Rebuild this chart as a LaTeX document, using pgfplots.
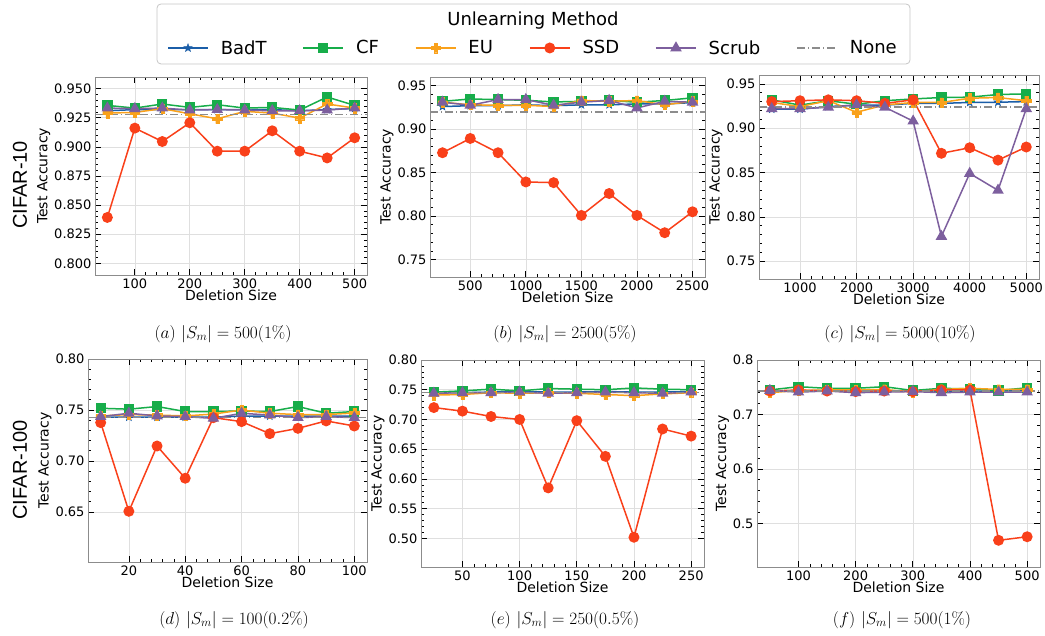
\documentclass[border=0pt]{standalone}
\usepackage[no-math]{fontspec}
\setmainfont{DejaVu Sans}
\newfontfamily\arialfont{Liberation Sans}
\usepackage{pgfplots}
\pgfplotsset{compat=1.18}
\definecolor{cBadT}{HTML}{1B5EA8}
\definecolor{cCF}{HTML}{17AD4A}
\definecolor{cEU}{HTML}{F9A11B}
\definecolor{cSSD}{HTML}{F9401A}
\definecolor{cScrub}{HTML}{7D5F9E}
\definecolor{cNone}{HTML}{8C8C8C}
\pgfdeclareplotmark{fstar}{%
  \pgfpathmoveto{\pgfpointpolar{90}{\pgfplotmarksize}}%
  \pgfpathlineto{\pgfpointpolar{126}{0.42\pgfplotmarksize}}%
  \pgfpathlineto{\pgfpointpolar{162}{\pgfplotmarksize}}%
  \pgfpathlineto{\pgfpointpolar{198}{0.42\pgfplotmarksize}}%
  \pgfpathlineto{\pgfpointpolar{234}{\pgfplotmarksize}}%
  \pgfpathlineto{\pgfpointpolar{270}{0.42\pgfplotmarksize}}%
  \pgfpathlineto{\pgfpointpolar{306}{\pgfplotmarksize}}%
  \pgfpathlineto{\pgfpointpolar{342}{0.42\pgfplotmarksize}}%
  \pgfpathlineto{\pgfpointpolar{18}{\pgfplotmarksize}}%
  \pgfpathlineto{\pgfpointpolar{54}{0.42\pgfplotmarksize}}%
  \pgfpathclose\pgfusepathqfillstroke}
\pgfdeclareplotmark{fplus}{%
  \pgfpathmoveto{\pgfpoint{-0.33\pgfplotmarksize}{\pgfplotmarksize}}%
  \pgfpathlineto{\pgfpoint{0.33\pgfplotmarksize}{\pgfplotmarksize}}%
  \pgfpathlineto{\pgfpoint{0.33\pgfplotmarksize}{0.33\pgfplotmarksize}}%
  \pgfpathlineto{\pgfpoint{\pgfplotmarksize}{0.33\pgfplotmarksize}}%
  \pgfpathlineto{\pgfpoint{\pgfplotmarksize}{-0.33\pgfplotmarksize}}%
  \pgfpathlineto{\pgfpoint{0.33\pgfplotmarksize}{-0.33\pgfplotmarksize}}%
  \pgfpathlineto{\pgfpoint{0.33\pgfplotmarksize}{-\pgfplotmarksize}}%
  \pgfpathlineto{\pgfpoint{-0.33\pgfplotmarksize}{-\pgfplotmarksize}}%
  \pgfpathlineto{\pgfpoint{-0.33\pgfplotmarksize}{-0.33\pgfplotmarksize}}%
  \pgfpathlineto{\pgfpoint{-\pgfplotmarksize}{-0.33\pgfplotmarksize}}%
  \pgfpathlineto{\pgfpoint{-\pgfplotmarksize}{0.33\pgfplotmarksize}}%
  \pgfpathlineto{\pgfpoint{-0.33\pgfplotmarksize}{0.33\pgfplotmarksize}}%
  \pgfpathclose\pgfusepathqfillstroke}
\pgfplotsset{
  panel/.style={
    scale only axis, anchor=south west,
    axis line style={black!45},
    tick align=inside, xtick pos=both, ytick pos=both,
    major tick length=6pt, minor tick length=3pt,
    every tick/.style={black, line width=0.7pt},
    minor tick num=4,
    grid=major, major grid style={gray!25, line width=0.6pt},
    tick label style={font=\fontsize{13}{15}\selectfont},
    label style={font=\fontsize{14}{16}\selectfont},
    xlabel={Deletion Size}, ylabel={Test Accuracy},
    xlabel style={yshift=5pt},
    ylabel style={yshift=-3pt},
    scaled ticks=false,
    /pgf/number format/assume math mode=true,
    xticklabel style={/pgf/number format/.cd, 1000 sep={}},
    every axis plot/.append style={line width=1.5pt},
  },
  yp3/.style={yticklabel style={/pgf/number format/.cd, fixed, fixed zerofill, precision=3}},
  yp2/.style={yticklabel style={/pgf/number format/.cd, fixed, fixed zerofill, precision=2}},
  yp1/.style={yticklabel style={/pgf/number format/.cd, fixed, fixed zerofill, precision=1}},
  badt/.style={color=cBadT, mark=fstar, mark size=4.2pt, mark options={solid, line width=0.5pt}},
  cf/.style={color=cCF, mark=square*, mark size=4.4pt, mark options={solid}},
  eu/.style={color=cEU, mark=fplus, mark size=4.7pt, mark options={solid, line width=0.3pt}},
  ssd/.style={color=cSSD, mark=*, mark size=4.7pt, mark options={solid}},
  scrub/.style={color=cScrub, mark=triangle*, mark size=5.2pt, mark options={solid}},
  nonel/.style={color=cNone, line width=1.5pt, dash pattern=on 8pt off 3pt on 1pt off 3pt, mark=none},
}
\begin{document}
\begin{tikzpicture}
% legend frame and title
\draw[gray!45, rounded corners=4pt, line width=0.8pt, fill=white] (157pt,572pt) rectangle (910pt,632pt);
\node[font=\fontsize{18}{20}\selectfont] at (533pt,615pt) {Unlearning Method};
\node[font=\arialfont\fontsize{20}{22}\selectfont, rotate=90] at (20pt,451pt) {CIFAR-10};
\node[font=\arialfont\fontsize{20}{22}\selectfont, rotate=90] at (20pt,166pt) {CIFAR-100};
% (a)
\begin{axis}[panel, yp3, at={(95pt,361pt)}, width=272pt, height=198pt,
  xmin=27.5, xmax=522.5, ymin=0.79, ymax=0.96,
  xtick={100,200,...,500}, ytick={0.800,0.825,0.850,0.875,0.900,0.925,0.950},
  legend columns=6,
  legend style={at={(1.6103,1.1465)}, anchor=center, draw=none, fill=none,
    font=\fontsize{18}{20}\selectfont,
    /tikz/every odd column/.append style={column sep=10pt},
    /tikz/every even column/.append style={column sep=34pt}},
  legend image code/.code={\draw[mark repeat=2,mark phase=2] plot coordinates {(0pt,0pt) (20pt,0pt) (40pt,0pt)};},
]
\addplot[badt] coordinates {(50,0.931)(100,0.932)(150,0.932)(200,0.932)(250,0.932)(300,0.932)(350,0.932)(400,0.931)(450,0.932)(500,0.933)};
\addplot[cf] coordinates {(50,0.9356)(100,0.9333)(150,0.9368)(200,0.9339)(250,0.9362)(300,0.9333)(350,0.9339)(400,0.9316)(450,0.9428)(500,0.9356)};
\addplot[eu] coordinates {(50,0.929)(100,0.9296)(150,0.9328)(200,0.9284)(250,0.9241)(300,0.9305)(350,0.929)(400,0.9247)(450,0.9368)(500,0.9333)};
\addplot[ssd] coordinates {(50,0.8394)(100,0.9161)(150,0.9046)(200,0.9207)(250,0.8963)(300,0.8963)(350,0.9138)(400,0.8963)(450,0.8905)(500,0.9078)};
\addplot[scrub] coordinates {(50,0.9333)(100,0.9328)(150,0.9333)(200,0.9316)(250,0.932)(300,0.9316)(350,0.931)(400,0.931)(450,0.9316)(500,0.9333)};
\addplot[nonel] coordinates {(27.5,0.928)(522.5,0.928)};
\legend{BadT,CF,EU,SSD,Scrub,None}
\end{axis}
\node[font=\fontsize{18}{20}\selectfont] at (223pt,302pt) {$(a)\ |S_m| = 500(1\%)$};
% (b)
\begin{axis}[panel, yp2, at={(430pt,359pt)}, width=275pt, height=200pt,
  xmin=137.5, xmax=2612.5, ymin=0.73, ymax=0.96,
  xtick={500,1000,...,2500}, ytick={0.75,0.80,0.85,0.90,0.95}]
\addplot[badt] coordinates {(250,0.926)(500,0.927)(750,0.927)(1000,0.928)(1250,0.927)(1500,0.928)(1750,0.928)(2000,0.929)(2250,0.929)(2500,0.9305)};
\addplot[cf] coordinates {(250,0.932)(500,0.9347)(750,0.934)(1000,0.9332)(1250,0.9313)(1500,0.932)(1750,0.933)(2000,0.931)(2250,0.933)(2500,0.936)};
\addplot[eu] coordinates {(250,0.931)(500,0.928)(750,0.9275)(1000,0.9275)(1250,0.926)(1500,0.933)(1750,0.932)(2000,0.933)(2250,0.928)(2500,0.932)};
\addplot[ssd] coordinates {(250,0.8729)(500,0.8893)(750,0.8729)(1000,0.8393)(1250,0.8385)(1500,0.8008)(1750,0.826)(2000,0.8008)(2250,0.7809)(2500,0.805)};
\addplot[scrub] coordinates {(250,0.931)(500,0.9275)(750,0.934)(1000,0.934)(1250,0.9275)(1500,0.931)(1750,0.933)(2000,0.9244)(2250,0.932)(2500,0.931)};
\addplot[nonel] coordinates {(137.5,0.9195)(2612.5,0.9195)};
\end{axis}
\node[font=\fontsize{18}{20}\selectfont] at (565pt,302pt) {$(b)\ |S_m| = 2500(5\%)$};
% (c)
\begin{axis}[panel, yp2, at={(759pt,357pt)}, width=280pt, height=204pt,
  xmin=275, xmax=5225, ymin=0.73, ymax=0.96,
  xtick={1000,2000,...,5000}, ytick={0.75,0.80,0.85,0.90,0.95}]
\addplot[badt] coordinates {(500,0.9214)(1000,0.9214)(1500,0.9244)(2000,0.926)(2500,0.926)(3000,0.928)(3500,0.928)(4000,0.929)(4500,0.9293)(5000,0.930)};
\addplot[cf] coordinates {(500,0.932)(1000,0.926)(1500,0.931)(2000,0.927)(2500,0.931)(3000,0.933)(3500,0.9346)(4000,0.935)(4500,0.938)(5000,0.9387)};
\addplot[eu] coordinates {(500,0.929)(1000,0.9244)(1500,0.931)(2000,0.918)(2500,0.9263)(3000,0.929)(3500,0.929)(4000,0.9338)(4500,0.9346)(5000,0.931)};
\addplot[ssd] coordinates {(500,0.930)(1000,0.931)(1500,0.932)(2000,0.931)(2500,0.928)(3000,0.932)(3500,0.8717)(4000,0.878)(4500,0.864)(5000,0.8788)};
\addplot[scrub] coordinates {(500,0.922)(1000,0.922)(1500,0.9236)(2000,0.9263)(2500,0.9236)(3000,0.908)(3500,0.778)(4000,0.849)(4500,0.830)(5000,0.922)};
\addplot[nonel] coordinates {(275,0.924)(5225,0.924)};
\end{axis}
\node[font=\fontsize{18}{20}\selectfont] at (900pt,302pt) {$(c)\ |S_m| = 5000(10\%)$};
% (d)
\begin{axis}[panel, yp2, at={(88pt,74pt)}, width=279pt, height=203pt,
  xmin=5.5, xmax=104.5, ymin=0.601, ymax=0.80,
  xtick={20,40,...,100}, ytick={0.65,0.70,0.75,0.80}]
\addplot[badt] coordinates {(10,0.743)(20,0.743)(30,0.743)(40,0.743)(50,0.743)(60,0.744)(70,0.744)(80,0.744)(90,0.744)(100,0.744)};
\addplot[cf] coordinates {(10,0.7517)(20,0.7508)(30,0.7534)(40,0.7485)(50,0.7485)(60,0.749)(70,0.7485)(80,0.7534)(90,0.7468)(100,0.7485)};
\addplot[eu] coordinates {(10,0.7442)(20,0.7455)(30,0.745)(40,0.7442)(50,0.746)(60,0.750)(70,0.7468)(80,0.7455)(90,0.7455)(100,0.747)};
\addplot[ssd] coordinates {(10,0.7376)(20,0.6507)(30,0.7147)(40,0.6831)(50,0.7425)(60,0.7386)(70,0.7268)(80,0.732)(90,0.7393)(100,0.7343)};
\addplot[scrub] coordinates {(10,0.7435)(20,0.7468)(30,0.7442)(40,0.7435)(50,0.7418)(60,0.7468)(70,0.745)(80,0.7425)(90,0.7435)(100,0.7425)};
\addplot[nonel] coordinates {(5.5,0.7425)(104.5,0.7425)};
\end{axis}
\node[font=\fontsize{18}{20}\selectfont] at (234pt,16pt) {$(d)\ |S_m| = 100(0.2\%)$};
% (e)
\begin{axis}[panel, yp2, at={(421pt,69pt)}, width=283pt, height=207pt,
  xmin=13.75, xmax=261.25, ymin=0.452, ymax=0.80,
  xtick={50,100,...,250}, ytick={0.50,0.55,...,0.80}]
\addplot[badt] coordinates {(25,0.745)(50,0.745)(75,0.746)(100,0.747)(125,0.746)(150,0.746)(175,0.747)(200,0.746)(225,0.746)(250,0.747)};
\addplot[cf] coordinates {(25,0.746)(50,0.748)(75,0.751)(100,0.748)(125,0.752)(150,0.751)(175,0.750)(200,0.753)(225,0.751)(250,0.750)};
\addplot[eu] coordinates {(25,0.741)(50,0.742)(75,0.745)(100,0.744)(125,0.745)(150,0.744)(175,0.742)(200,0.740)(225,0.743)(250,0.745)};
\addplot[ssd] coordinates {(25,0.720)(50,0.714)(75,0.705)(100,0.700)(125,0.585)(150,0.698)(175,0.638)(200,0.502)(225,0.684)(250,0.672)};
\addplot[scrub] coordinates {(25,0.744)(50,0.745)(75,0.745)(100,0.746)(125,0.744)(150,0.745)(175,0.746)(200,0.745)(225,0.744)(250,0.746)};
\addplot[nonel] coordinates {(13.75,0.745)(261.25,0.745)};
\end{axis}
\node[font=\fontsize{18}{20}\selectfont] at (565pt,16pt) {$(e)\ |S_m| = 250(0.5\%)$};
% (f)
\begin{axis}[panel, yp1, at={(757pt,69pt)}, width=283pt, height=207pt,
  xmin=27.5, xmax=522.5, ymin=0.42, ymax=0.80,
  xtick={100,200,...,500}, ytick={0.5,0.6,0.7,0.8}]
\addplot[badt] coordinates {(50,0.743)(100,0.743)(150,0.744)(200,0.743)(250,0.743)(300,0.743)(350,0.743)(400,0.743)(450,0.743)(500,0.744)};
\addplot[cf] coordinates {(50,0.745)(100,0.751)(150,0.748)(200,0.748)(250,0.751)(300,0.744)(350,0.748)(400,0.747)(450,0.744)(500,0.749)};
\addplot[eu] coordinates {(50,0.740)(100,0.744)(150,0.745)(200,0.745)(250,0.746)(300,0.741)(350,0.746)(400,0.748)(450,0.746)(500,0.746)};
\addplot[ssd] coordinates {(50,0.743)(100,0.745)(150,0.743)(200,0.742)(250,0.743)(300,0.742)(350,0.745)(400,0.745)(450,0.469)(500,0.4755)};
\addplot[scrub] coordinates {(50,0.744)(100,0.741)(150,0.743)(200,0.740)(250,0.741)(300,0.742)(350,0.740)(400,0.741)(450,0.741)(500,0.741)};
\addplot[nonel] coordinates {(27.5,0.7435)(522.5,0.7435)};
\end{axis}
\node[font=\fontsize{18}{20}\selectfont] at (902pt,16pt) {$(f)\ |S_m| = 500(1\%)$};
\pgfresetboundingbox
\path[use as bounding box] (0pt,0pt) rectangle (1045pt,636pt);
\end{tikzpicture}
\end{document}
